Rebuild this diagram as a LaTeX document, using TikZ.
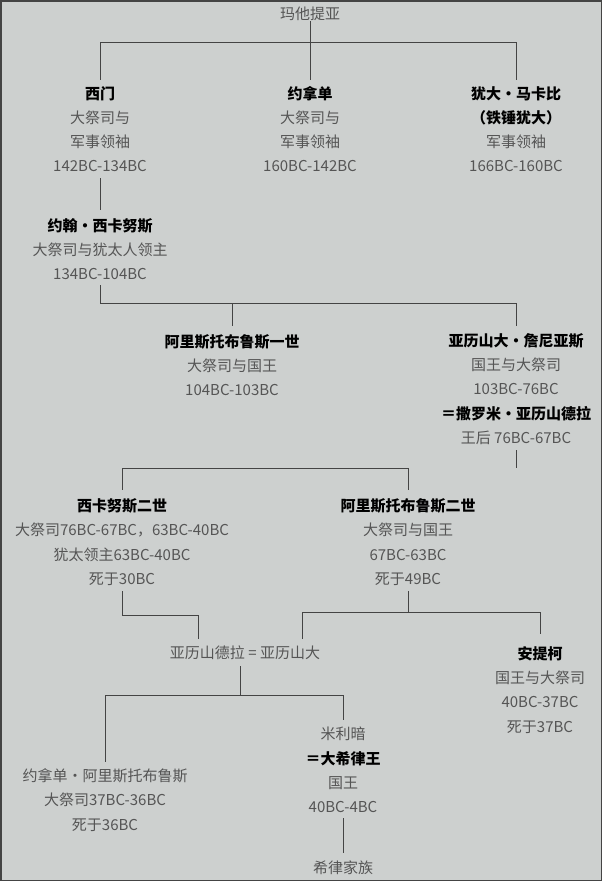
\documentclass[tikz,border=0pt]{standalone}
\usepackage{fontspec}
\setmainfont{Noto Sans CJK SC}
\begin{document}
\begin{tikzpicture}[x=1pt,y=-1pt,
  every node/.style={inner sep=0pt,align=center,text=txt,font=\fontsize{15}{24.2}\selectfont},
  ln/.style={draw=lin,line width=0.9pt}]
\definecolor{bg}{HTML}{CDD0CF}\definecolor{txt}{HTML}{555555}\definecolor{lin}{HTML}{444444}
\newcommand{\bn}[1]{\textcolor{black}{\bfseries #1}}
\fill[bg] (0,0) rectangle (602,881);
\draw[lin,line width=1.5pt] (0.75,0.75) rectangle (601.25,880.25);
\node (m) at (310,14) {玛他提亚};
\node (simon) at (100,129) {\bn{西门}\\大祭司与\\军事领袖\\142BC-134BC};
\node (jon) at (310,129) {\bn{约拿单}\\大祭司与\\军事领袖\\160BC-142BC};
\node (jud) at (516,129) {\bn{犹大·马卡比}\\\bn{（铁锤犹大）}\\军事领袖\\166BC-160BC};
\node (jh) at (100,249) {\bn{约翰·西卡努斯}\\大祭司与犹太人领主\\134BC-104BC};
\node (ar1) at (232,365) {\bn{阿里斯托布鲁斯一世}\\大祭司与国王\\104BC-103BC};
\node (aj) at (516,389) {\bn{亚历山大·詹尼亚斯}\\国王与大祭司\\103BC-76BC\\\bn{＝撒罗米·亚历山德拉}\\王后 76BC-67BC};
\node (h2) at (122,542) {\bn{西卡努斯二世}\\大祭司76BC-67BC，63BC-40BC\\犹太领主63BC-40BC\\死于30BC};
\node (ar2) at (408,542) {\bn{阿里斯托布鲁斯二世}\\大祭司与国王\\67BC-63BC\\死于49BC};
\node (aa) at (245,653) {亚历山德拉 = 亚历山大};
\node (ant) at (540,690) {\bn{安提柯}\\国王与大祭司\\40BC-37BC\\死于37BC};
\node (mh) at (343,770) {米利暗\\\bn{＝大希律王}\\国王\\40BC-4BC};
\node (ja) at (105,800) {约拿单·阿里斯托布鲁斯\\大祭司37BC-36BC\\死于36BC};
\node (hf) at (343,868) {希律家族};
\draw[ln] (m.south) -- (310,42) (100,42) -- (516,42);
\draw[ln] (100,42) -- (100,80) (310,42) -- (310,80) (516,42) -- (516,80);
\draw[ln] (simon.south|-0,178) -- (100,210);
\draw[ln] (100,285) -- (100,303) -- (516,303) -- (516,326) (232,303) -- (232,326);
\draw[ln] (516,450) -- (516,468) (122,468) -- (408,468) (122,468) -- (122,490) (408,468) -- (408,490);
\draw[ln] (122,591) -- (122,615) -- (198,615) -- (198,639);
\draw[ln] (408,591) -- (408,612) (302,612) -- (540,612) (302,612) -- (302,639) (540,612) -- (540,634);
\draw[ln] (240,666) -- (240,695) (105,695) -- (343,695) (105,695) -- (105,762) (343,695) -- (343,720);
\draw[ln] (343,818) -- (343,853);
\end{tikzpicture}
\end{document}
